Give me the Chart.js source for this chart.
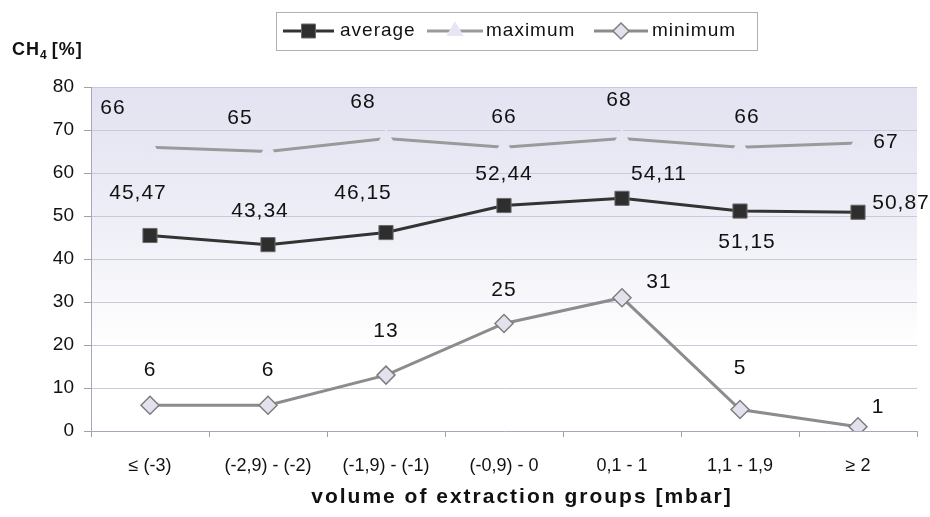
<!DOCTYPE html>
<html>
<head>
<meta charset="utf-8">
<script src="https://cdn.jsdelivr.net/npm/chart.js@4.4.0/dist/chart.umd.min.js"></script>
<style>
  html, body { margin: 0; padding: 0; background: #fff; }
  #wrap { width: 930px; height: 517px; }
</style>
</head>
<body>
<div id="wrap"><canvas id="lineChart" width="930" height="517"></canvas></div>
<script>
// data
const categories = ['≤ (-3)', '(-2,9) - (-2)', '(-1,9) - (-1)', '(-0,9) - 0', '0,1 - 1', '1,1 - 1,9', '≥ 2'];
const average = [45.47, 43.34, 46.15, 52.44, 54.11, 51.15, 50.87];
const maximum = [66, 65, 68, 66, 68, 66, 67];
const minimum = [6, 6, 13, 25, 31, 5, 1];
const yTicks = [0, 10, 20, 30, 40, 50, 60, 70, 80];

const FONT = '"Liberation Sans", Arial, sans-serif';

// where each value label sits relative to its point (dx, dy)
const labelOffsets = {
  average: [[-12, -42], [-8, -33], [-23, -39], [0, -31], [37, -24], [7, 31], [43, -9]],
  maximum: [[-37, -39], [-28, -33], [-23, -36], [0, -30], [-3, -38], [7, -30], [28, -1]],
  minimum: [[0, -35], [0, -35], [0, -44], [0, -33], [37, -15], [0, -41], [20, -19]]
};

function fmt(v, dec) {
  return dec ? v.toFixed(2).replace('.', ',') : String(v);
}

// plot area gradient
const bgPlugin = {
  id: 'bg',
  beforeDraw(chart) {
    const { ctx, chartArea: a } = chart;
    const g = ctx.createLinearGradient(0, a.top, 0, a.bottom);
    g.addColorStop(0, '#e2e2f1');
    g.addColorStop(0.5, '#f2f2f9');
    g.addColorStop(0.75, '#ffffff');
    g.addColorStop(1, '#ffffff');
    ctx.save();
    ctx.fillStyle = g;
    ctx.fillRect(a.left, a.top, a.right - a.left, a.bottom - a.top);
    ctx.restore();
  }
};

function drawMarker(ctx, style, r, x, y) {
  ctx.beginPath();
  if (style === 'rect') {
    ctx.rect(x - r, y - r, 2 * r, 2 * r);
  } else if (style === 'rectRot') {
    ctx.moveTo(x, y - r); ctx.lineTo(x + r, y); ctx.lineTo(x, y + r); ctx.lineTo(x - r, y); ctx.closePath();
  } else {
    ctx.moveTo(x, y - r); ctx.lineTo(x + r * 0.87, y + r * 0.5); ctx.lineTo(x - r * 0.87, y + r * 0.5); ctx.closePath();
  }
  ctx.fill();
  if (ctx.lineWidth > 0) ctx.stroke();
}

// value labels, axis titles and boxed legend
const extrasPlugin = {
  id: 'extras',
  afterDatasetsDraw(chart) {
    const ctx = chart.ctx;
    ctx.save();
    ctx.letterSpacing = '1px';
    ctx.font = '21px ' + FONT;
    ctx.fillStyle = '#111';
    ctx.textAlign = 'center';
    ctx.textBaseline = 'middle';
    chart.data.datasets.forEach((ds, i) => {
      const meta = chart.getDatasetMeta(i);
      const offs = labelOffsets[ds.label];
      meta.data.forEach((pt, j) => {
        const o = offs[j];
        ctx.fillText(fmt(ds.data[j], ds.label === 'average'), pt.x + o[0], pt.y + o[1]);
      });
    });
    ctx.restore();
  },
  afterDraw(chart) {
    const ctx = chart.ctx;
    ctx.save();
    ctx.fillStyle = '#111';

    // x axis title
    ctx.letterSpacing = '2px';
    ctx.font = 'bold 21px ' + FONT;
    ctx.textAlign = 'center';
    ctx.textBaseline = 'middle';
    ctx.fillText('volume of extraction groups [mbar]', 522, 497);

    // y axis title CH4 [%]
    ctx.letterSpacing = '1px';
    ctx.textBaseline = 'alphabetic';
    ctx.textAlign = 'left';
    ctx.font = 'bold 18px ' + FONT;
    let x = 12;
    ctx.fillText('CH', x, 55);
    x += ctx.measureText('CH').width;
    ctx.font = 'bold 12px ' + FONT;
    ctx.fillText('4', x, 59);
    x += ctx.measureText('4').width + 4;
    ctx.font = 'bold 18px ' + FONT;
    ctx.fillText('[%]', x, 55);

    // legend box
    ctx.strokeStyle = '#b0b0b0';
    ctx.lineWidth = 1;
    ctx.fillStyle = '#fff';
    ctx.fillRect(276.5, 12.5, 481, 38);
    ctx.strokeRect(276.5, 12.5, 481, 38);
    const items = [
      { i: 0, x0: 283, x1: 334, tx: 340 },
      { i: 1, x0: 427, x1: 483, tx: 486 },
      { i: 2, x0: 594, x1: 648, tx: 652 }
    ];
    const ly = 31;
    items.forEach(it => {
      const ds = chart.data.datasets[it.i];
      ctx.strokeStyle = ds.borderColor;
      ctx.lineWidth = ds.borderWidth;
      ctx.beginPath();
      ctx.moveTo(it.x0, ly);
      ctx.lineTo(it.x1, ly);
      ctx.stroke();
      ctx.fillStyle = ds.pointBackgroundColor;
      ctx.strokeStyle = ds.pointBorderColor;
      ctx.lineWidth = ds.pointBorderWidth;
      drawMarker(ctx, ds.pointStyle, ds.legendRadius, (it.x0 + it.x1) / 2, ly);
      ctx.fillStyle = '#111';
      ctx.letterSpacing = '1px';
      ctx.font = '19px ' + FONT;
      ctx.textAlign = 'left';
      ctx.textBaseline = 'middle';
      ctx.fillText(ds.label, it.tx, ly);
    });
    ctx.restore();
  }
};

const ctx1 = document.getElementById('lineChart').getContext('2d');
const lineChart = new Chart(ctx1, {
  type: 'line',
  data: {
    labels: categories,
    datasets: [{
      label: 'average',
      data: average,
      borderColor: '#333333',
      borderWidth: 3,
      pointStyle: 'rect',
      pointRadius: 10,
      legendRadius: 7,
      pointBackgroundColor: '#2e2e2e',
      pointBorderColor: '#6a6a6a',
      pointBorderWidth: 1
    }, {
      label: 'maximum',
      data: maximum,
      borderColor: '#9a9a9a',
      borderWidth: 3,
      pointStyle: 'triangle',
      pointRadius: 10,
      legendRadius: 7,
      pointBackgroundColor: '#e7e7f3',
      pointBorderColor: '#e7e7f3',
      pointBorderWidth: 0
    }, {
      label: 'minimum',
      data: minimum,
      borderColor: '#8c8c8c',
      borderWidth: 3,
      pointStyle: 'rectRot',
      pointRadius: 9,
      legendRadius: 8,
      pointBackgroundColor: '#e2e2ee',
      pointBorderColor: '#7e7e7e',
      pointBorderWidth: 1.5
    }]
  },
  options: {
    responsive: false,
    animation: false,
    layout: { padding: { top: 87, right: 13, left: 0, bottom: 0 } },
    plugins: {
      legend: { display: false },
      tooltip: { enabled: false }
    },
    scales: {
      x: {
        offset: true,
        grid: { drawOnChartArea: false, drawTicks: true, tickLength: 6, color: '#a0a0a0', offset: true },
        border: { display: true, color: '#a8a8b8' },
        ticks: { font: { family: FONT, size: 18 }, color: '#111', padding: 18, maxRotation: 0, autoSkip: false },
        afterFit(scale) { scale.height = 86; }
      },
      y: {
        min: 0,
        max: 80,
        afterBuildTicks(scale) { scale.ticks = yTicks.map(v => ({ value: v })); },
        grid: { color: '#c9c9dc', tickLength: 7, tickColor: '#a0a0a0' },
        border: { display: true, color: '#a8a8b8' },
        ticks: { font: { family: FONT, size: 19 }, color: '#111', padding: 10 },
        afterFit(scale) { scale.width = 91; }
      }
    }
  },
  plugins: [bgPlugin, extrasPlugin]
});
</script>
</body>
</html>
